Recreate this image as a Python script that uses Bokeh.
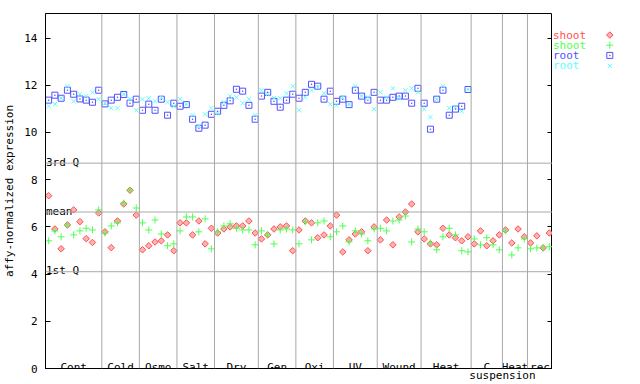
import math
from bokeh.plotting import figure
from bokeh.models import Range1d, LinearAxis, FixedTicker, Span
from bokeh.layouts import row
from bokeh.embed import file_html
from bokeh.resources import INLINE
from bokeh.core.properties import value

# ---------------- data ----------------
group_labels = ["Cont", "Cold", "Osmo", "Salt", "Dry", "Gen", "Oxi", "UV",
                "Wound", "Heat", "C", "Heat", "rec"]
group_sizes = [9, 6, 6, 6, 7, 6, 6, 7, 7, 8, 5, 4, 4]
second_line_label = "suspension"

shoot_red = [7.32, 5.91, 5.07, 6.08, 6.72, 6.22, 5.50, 5.34, 6.59,
             5.79, 5.12, 6.25, 6.97, 7.55, 6.50,
             5.03, 5.20, 5.36, 5.41, 5.66, 4.99,
             6.17, 6.17, 5.66, 6.25, 5.28, 5.94,
             5.74, 5.91, 6.00, 6.04, 6.04, 6.25, 5.74,
             5.49, 5.66, 5.91, 6.00, 6.04, 4.99,
             5.87, 6.25, 6.17, 5.54, 5.66, 6.04,
             6.50, 4.94, 5.45, 5.70, 5.79, 4.99, 6.00,
             5.45, 6.29, 5.24, 6.42, 6.63, 6.97, 5.79,
             5.49, 5.28, 5.24, 5.94, 5.66, 5.54, 5.41, 5.58,
             5.28, 5.83, 5.20, 5.41, 5.66,
             5.87, 5.32, 5.91, 5.58,
             5.32, 5.62, 5.11, 5.74]

shoot_green = [5.41, 5.83, 5.58, 6.08, 5.66, 5.83, 5.94, 5.87, 6.72,
               5.74, 6.04, 6.17, 7.01, 7.55, 6.80,
               6.17, 5.87, 6.29, 5.70, 5.20, 5.28,
               5.83, 6.42, 6.42, 5.79, 6.34, 5.07,
               5.79, 6.04, 6.13, 5.94, 5.87, 5.87, 5.24,
               5.83, 5.66, 5.28, 5.87, 5.91, 5.87,
               5.28, 6.21, 5.45, 6.17, 6.25, 5.58,
               5.79, 6.04, 5.36, 5.83, 5.70, 5.41, 5.91,
               5.94, 5.83, 6.25, 6.29, 6.46, 5.36, 5.91,
               5.79, 5.32, 5.03, 5.58, 5.94, 5.66, 4.99, 4.94,
               5.49, 5.24, 5.54, 5.24, 5.03,
               5.83, 4.81, 5.11, 5.49,
               5.07, 5.11, 5.11, 5.16]

root_blue = [11.37, 11.58, 11.45, 11.79, 11.62, 11.42, 11.37, 11.28, 11.79,
             11.21, 11.37, 11.49, 11.61, 11.24, 11.41,
             10.94, 11.20, 10.94, 11.41, 10.73, 11.24,
             11.11, 11.18, 10.56, 10.18, 10.31, 10.77,
             10.90, 11.15, 11.34, 11.83, 11.75, 11.15, 10.56,
             11.54, 11.70, 11.32, 11.07, 11.37, 11.62,
             11.45, 11.70, 12.04, 11.96, 11.41, 11.75,
             11.32, 11.41, 11.18, 11.79, 11.54, 11.37, 11.70,
             11.37, 11.37, 11.49, 11.54, 11.54, 11.24, 11.87,
             11.24, 10.14, 11.41, 11.79, 10.73, 10.99, 11.11, 11.82]

root_cyan = [11.11, 11.20, 11.45, 11.96, 11.32, 11.62, 11.54, 11.70, 11.41,
             11.24, 11.03, 11.03, 11.62, 11.41, 10.94,
             11.41, 11.45, 11.32, 11.49, 11.28, 11.11,
             11.41, 11.20, 10.73, 10.27, 10.77, 11.03,
             10.82, 11.28, 11.54, 11.49, 11.24, 11.41, 10.73,
             11.79, 11.62, 11.45, 11.45, 11.66, 11.96,
             10.94, 11.49, 11.79, 11.92, 11.66, 11.20,
             11.15, 11.49, 11.20, 11.96, 11.54, 11.49, 10.99,
             11.70, 11.49, 11.87, 11.45, 11.79, 11.87, 11.70,
             10.99, 10.65, 11.41, 11.96, 11.03, 11.07, 10.90, 11.82]

series_names = ["shoot", "shoot", "root", "root"]
quartile_names = ["3rd Q", "mean", "1st Q"]
quartile_values = [8.70, 6.63, 4.10]
y_ticks = [0, 2, 4, 6, 8, 10, 12, 14]
y_axis_title = "affy-normalized expression"

# ---------------- styles ----------------
FONT_NAME = "DejaVu Sans Mono"
FONT = value(FONT_NAME)
FS = "11px"
RED, GREEN, BLUE, CYAN = "#ff5050", "#50ff50", "#5050ff", "#5affff"
GRAY = "#a8a8a8"
styles = [
    dict(marker="square", angle=math.pi / 4, size=4.6, line_color=RED, fill_color="#ffb0b0", line_width=1),
    dict(marker="cross", size=7, line_color=GREEN, line_width=1),
    dict(marker="square_dot", size=6, line_color=BLUE, fill_color=None, line_width=1),
    dict(marker="x", size=6, line_color=CYAN, line_width=1),
]
colors = [RED, GREEN, BLUE, CYAN]

n = len(shoot_red)
p = figure(width=552, height=384, title=None,
           x_range=Range1d(-0.5, n - 0.5), y_range=Range1d(0, 15.04),
           output_backend="svg", toolbar_location=None,
           min_border_left=44, min_border_right=0, min_border_top=13, min_border_bottom=15)
p.background_fill_color = "white"
p.border_fill_color = "white"
p.outline_line_color = "black"
p.xgrid.visible = False
p.ygrid.visible = False

# group geometry
bounds = []
centers = []
c = 0
for s in group_sizes:
    centers.append(c + (s - 1) / 2)
    c += s
    bounds.append(c - 0.5)

# left axis
ya = p.yaxis[0]
ya.ticker = FixedTicker(ticks=y_ticks)
ya.major_tick_in = 5
ya.major_tick_out = 0
ya.minor_tick_line_color = None
ya.major_label_standoff = 8
ya.major_label_text_font = FONT_NAME
ya.major_label_text_font_size = FS
ya.major_label_text_color = "black"
ya.axis_line_color = "black"
ya.major_tick_line_color = "black"
ya.axis_label = y_axis_title
ya.axis_label_text_font = FONT_NAME
ya.axis_label_text_font_size = FS
ya.axis_label_text_font_style = "normal"
ya.axis_label_text_color = "black"
ya.axis_label_standoff = 5

# bottom axis: line + second-line label under "C"
xa = p.xaxis[0]
xa.ticker = FixedTicker(ticks=[bounds[10]])
xa.major_label_overrides = {bounds[10]: second_line_label}
xa.major_tick_in = 0
xa.major_tick_out = 0
xa.minor_tick_line_color = None
xa.major_tick_line_color = None
xa.major_label_standoff = 0
xa.major_label_text_font = FONT_NAME
xa.major_label_text_font_size = FS
xa.major_label_text_color = "black"
xa.axis_line_color = "black"

# right axis (ticks only)
ra = LinearAxis(ticker=FixedTicker(ticks=y_ticks), major_tick_in=5, major_tick_out=0,
                minor_tick_line_color=None, major_label_standoff=0,
                major_label_overrides={t: "" for t in y_ticks},
                axis_line_color="black")
p.add_layout(ra, "right")

for b in bounds[:-1]:
    p.add_layout(Span(location=b, dimension="height", line_color=GRAY, line_width=1))
for q in quartile_values:
    p.add_layout(Span(location=q, dimension="width", line_color=GRAY, line_width=1))

p.text(x=centers, y=[0.05] * len(centers), text=group_labels, text_font=FONT,
       text_font_size=FS, text_align="center", text_baseline="alphabetic", text_color="black")

p.text(x=[-0.5] * 3, y=[v + 0.04 for v in quartile_values], text=quartile_names, x_offset=0.5,
       text_font=FONT, text_font_size=FS, text_align="left", text_baseline="alphabetic", text_color="black")

# data
xs = list(range(n))
xr = list(range(len(root_blue)))
p.scatter(xs, shoot_red, **styles[0])
p.scatter(xs, shoot_green, **styles[1])
p.scatter(xr, root_blue, **styles[2])
p.scatter(xr, root_cyan, **styles[3])

# legend panel
lg = figure(width=88, height=384, title=None, x_range=Range1d(0, 88), y_range=Range1d(384, 0),
            output_backend="svg", toolbar_location=None,
            min_border_left=0, min_border_right=0, min_border_top=0, min_border_bottom=0)
lg.axis.visible = False
lg.xgrid.visible = False
lg.ygrid.visible = False
lg.outline_line_color = None
lg.background_fill_color = "white"
lg.border_fill_color = "white"
ly = [23.3, 34.3, 45.3, 56.7]
lg.text(x=[0.5] * 4, y=ly, text=series_names, text_color=colors, text_font=FONT,
        text_font_size=FS, text_align="left", text_baseline="middle")
for i in range(4):
    lg.scatter([57.3], [ly[i]], **styles[i])

layout = row(p, lg, spacing=0)
open("out.html", "w").write(file_html(layout, INLINE))
